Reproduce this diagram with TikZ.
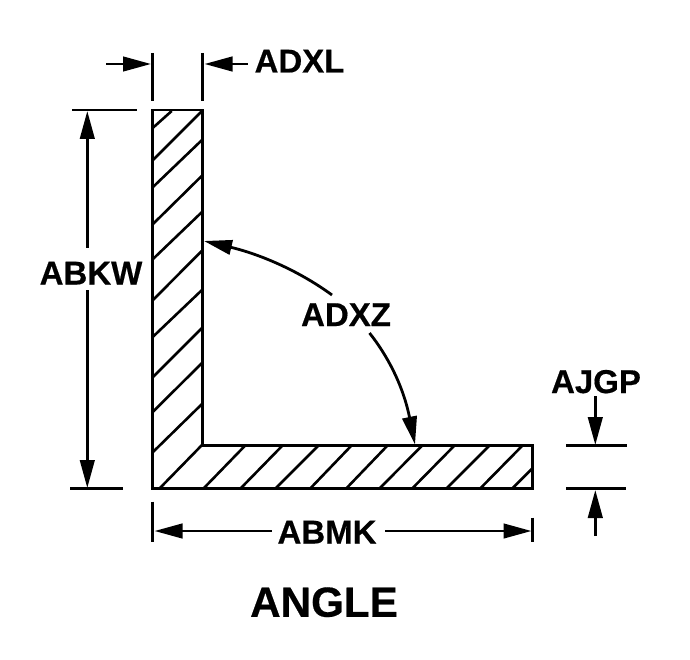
\documentclass[tikz,border=0pt]{standalone}
\usepackage{fontspec}
\setmainfont[BoldFeatures={FakeBold=0.4}]{Liberation Sans}
\usetikzlibrary{arrows.meta}
\tikzset{
  line/.style={line width=2.8pt,black},
  dimarrow/.style={line,-{Triangle[length=28pt,width=14.5pt]}},
  hatchline/.style={line width=2.6pt,black},
  lab/.style={font=\bfseries\fontsize{33}{33}\selectfont,inner sep=0pt,text height=23pt,text depth=0pt},
  title/.style={font=\bfseries\fontsize{42.2}{42.2}\selectfont,inner sep=0pt,text height=29.5pt,text depth=0pt}
}
\begin{document}
\begin{tikzpicture}[x=1pt,y=-1pt]
\useasboundingbox (0,0) rectangle (690,660);
% labels
\node[lab] (adxl) at (299.5,61) {ADXL};
\node[lab] (abkw) at (91,273) {ABKW};
\node[lab] (adxz) at (346,314.5) {ADXZ};
\node[lab] (ajgp) at (596,381.5) {AJGP};
\node[lab] (abmk) at (327,532) {ABMK};
\node[title] (angle) at (324,602) {ANGLE};
% section outline
\coordinate (tl) at (152.5,110);
\coordinate (tr) at (202.3,110);
\coordinate (in) at (202.3,445.5);
\coordinate (er) at (532.7,445.5);
\coordinate (br) at (532.7,488.5);
\coordinate (bl) at (152.5,488.5);
% hatching
\foreach \xa/\ya/\xb/\yb in {
  153/127.7/171.7/111, 153/160/202/111, 153/187/202/140, 153/224/202/175.7,
  153/259/202/212, 153/300/202/250.7, 153/336.7/202/290, 153/377/202/328,
  153/411.7/202/363, 153/452/202/404, 160/488/202/445, 204/488/245.7/445,
  241/488/283/445, 276/488/319/445, 310.7/488/352/445, 346.7/488/388/445,
  380/488/422.7/445, 412.7/488/455/445, 447/488/490/445, 480.7/488/523/445,
  512.7/488/532.7/468}
  \draw[hatchline] (\xa,\ya) -- (\xb,\yb);
\draw[line] (tl) -- (tr) -- (in) -- (er) -- (br) -- (bl) -- cycle;
% ADXL
\coordinate (e1a) at (152.5,53); \coordinate (e1b) at (152.5,100.7);
\coordinate (e2a) at (202.3,53); \coordinate (e2b) at (202.3,100.7);
\draw[line] (e1a) -- (e1b);
\draw[line] (e2a) -- (e2b);
\coordinate (a1s) at (106,64); \coordinate (a1e) at (151,64);
\coordinate (a2s) at (247.7,64); \coordinate (a2e) at (204.5,64);
\draw[dimarrow] (a1s) -- (a1e);
\draw[dimarrow] (a2s) -- (a2e);
% ABKW
\coordinate (k1a) at (72,110); \coordinate (k1b) at (136.7,110);
\coordinate (k2a) at (70,488.5); \coordinate (k2b) at (122.7,488.5);
\draw[line] (k1a) -- (k1b);
\draw[line] (k2a) -- (k2b);
\coordinate (k3t) at (87.3,111); \coordinate (k3b) at (87.3,488);
\draw[dimarrow] (87.3,248) -- (k3t);
\draw[dimarrow] (87.3,290) -- (k3b);
% ABMK
\coordinate (m1a) at (152.5,501.7); \coordinate (m1b) at (152.5,541.7);
\coordinate (m2a) at (532.3,517.7); \coordinate (m2b) at (532.3,541.7);
\draw[line] (m1a) -- (m1b);
\draw[line] (m2a) -- (m2b);
\coordinate (m3l) at (154.5,531); \coordinate (m3r) at (531.5,531);
\draw[dimarrow] (271.7,531) -- (m3l);
\draw[dimarrow] (385,531) -- (m3r);
% AJGP
\coordinate (j1a) at (566,445.5); \coordinate (j1b) at (626.7,445.5);
\coordinate (j2a) at (566,488.5); \coordinate (j2b) at (626,488.5);
\draw[line] (j1a) -- (j1b);
\draw[line] (j2a) -- (j2b);
\coordinate (j3t) at (595.3,445); \coordinate (j3b) at (595.3,490);
\draw[dimarrow] (595.3,396) -- (j3t);
\draw[dimarrow] (595.3,536) -- (j3b);
% ADXZ
\coordinate (z1s) at (332,295); \coordinate (z1e) at (204,241);
\coordinate (z2s) at (369.5,333); \coordinate (z2e) at (415,444.5);
\draw[dimarrow] (z1s) .. controls (295,268) and (255,253) .. (z1e);
\draw[dimarrow] (z2s) .. controls (387,355) and (403,385) .. (z2e);
\end{tikzpicture}
\end{document}
